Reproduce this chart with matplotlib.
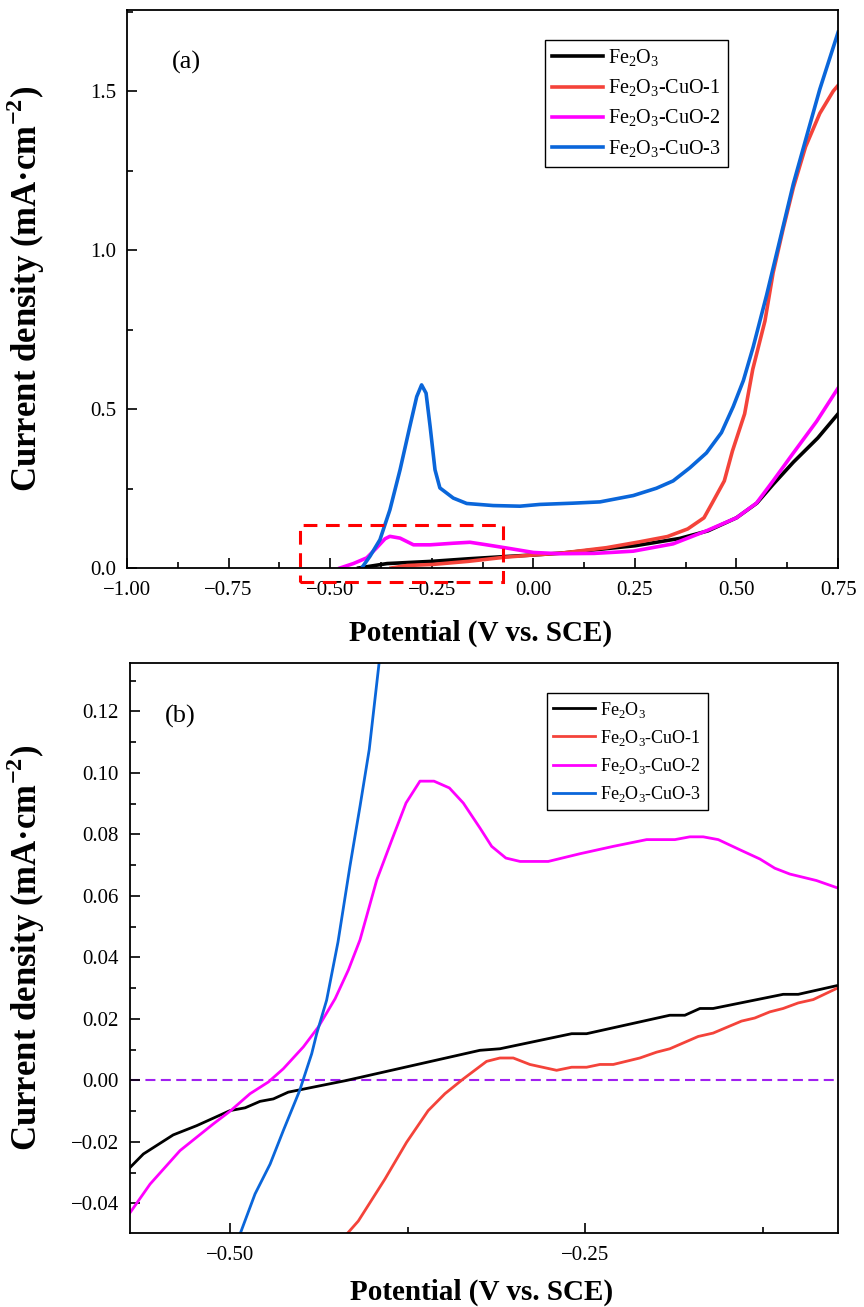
import matplotlib
matplotlib.use('Agg')
import matplotlib.pyplot as plt
from matplotlib.ticker import MultipleLocator, FuncFormatter
from matplotlib.patches import Rectangle

plt.rcParams['font.family'] = ['Liberation Serif', 'DejaVu Serif']
plt.rcParams['mathtext.fontset'] = 'custom'
plt.rcParams['mathtext.rm'] = 'Liberation Serif'
plt.rcParams['mathtext.bf'] = 'Liberation Serif:bold'

LABELS = [r'Fe$_2$O$_3$', r'Fe$_2$O$_3$-CuO-1', r'Fe$_2$O$_3$-CuO-2', r'Fe$_2$O$_3$-CuO-3']
COLORS = ['black', '#F4433A', '#FF00FF', '#0A66DA']

# ---- panel (a): full LSV scan ----
a_x_fe = [-0.43, -0.36, -0.25, -0.16, -0.07, 0.0, 0.07, 0.25, 0.36, 0.43, 0.50,
          0.55, 0.59, 0.64, 0.70, 0.75]
a_fe = [0.0, 0.014, 0.021, 0.029, 0.036, 0.041, 0.047, 0.070, 0.093, 0.117, 0.158,
        0.204, 0.263, 0.333, 0.409, 0.485]

a_x_cu1 = [-0.35, -0.31, -0.25, -0.16, -0.07, 0.0, 0.07, 0.18, 0.26, 0.33, 0.38,
           0.42, 0.44, 0.47, 0.49, 0.52, 0.54, 0.57, 0.59, 0.615, 0.64, 0.67,
           0.705, 0.738, 0.75]
a_cu1 = [0.0, 0.008, 0.011, 0.021, 0.034, 0.041, 0.047, 0.064, 0.082, 0.099, 0.123,
         0.158, 0.204, 0.274, 0.368, 0.485, 0.625, 0.777, 0.928, 1.068, 1.197, 1.325,
         1.430, 1.500, 1.518]

a_x_cu2 = [-0.476, -0.443, -0.41, -0.386, -0.365, -0.353, -0.328, -0.295, -0.254,
           -0.197, -0.156, -0.115, -0.066, 0.0, 0.065, 0.15, 0.246, 0.344, 0.426,
           0.50, 0.549, 0.59, 0.64, 0.697, 0.75]
a_cu2 = [0.0, 0.014, 0.032, 0.063, 0.092, 0.0996, 0.094, 0.073, 0.073, 0.078, 0.081,
         0.073, 0.063, 0.049, 0.045, 0.046, 0.053, 0.076, 0.117, 0.158, 0.204, 0.274,
         0.362, 0.461, 0.566]

a_x_cu3 = [-0.4225, -0.402, -0.3775, -0.353, -0.328, -0.304, -0.287, -0.275, -0.264,
           -0.254, -0.242, -0.23, -0.197, -0.164, -0.099, -0.033, 0.016, 0.098, 0.164,
           0.246, 0.303, 0.344, 0.385, 0.426, 0.463, 0.492, 0.517, 0.541, 0.574,
           0.607, 0.640, 0.673, 0.705, 0.75]
a_cu3 = [0.0, 0.037, 0.089, 0.183, 0.309, 0.445, 0.539, 0.576, 0.55, 0.445, 0.309,
         0.252, 0.220, 0.203, 0.1965, 0.1945, 0.200, 0.204, 0.208, 0.228, 0.251, 0.274,
         0.315, 0.362, 0.426, 0.508, 0.590, 0.695, 0.858, 1.033, 1.209, 1.36, 1.506,
         1.685]

# ---- panel (b): zoom on the onset region ----
b_x_fe = [-0.5704, -0.561, -0.54, -0.5235, -0.5, -0.4894, -0.4789, -0.4695, -0.459,
          -0.418, -0.3241, -0.31, -0.2595, -0.249, -0.1904, -0.1798, -0.1692, -0.1599,
          -0.1106, -0.1, -0.073]
b_fe = [-0.0283, -0.0239, -0.0177, -0.0147, -0.0098, -0.0089, -0.0068, -0.006, -0.0038,
        0.0, 0.0098, 0.0103, 0.0152, 0.0152, 0.0212, 0.0212, 0.0234, 0.0234, 0.028,
        0.028, 0.0308]

b_x_cu1 = [-0.4179, -0.4097, -0.391, -0.3757, -0.3605, -0.3487, -0.3358, -0.3194,
           -0.31, -0.3006, -0.2889, -0.2701, -0.2595, -0.249, -0.2396, -0.2302,
           -0.2115, -0.1997, -0.1904, -0.1704, -0.1599, -0.1399, -0.1306, -0.12,
           -0.1106, -0.1, -0.0894, -0.073]
b_cu1 = [-0.05, -0.0457, -0.0321, -0.0201, -0.0098, -0.0043, 0.0005, 0.0062, 0.0073,
         0.0073, 0.0052, 0.0033, 0.0043, 0.0043, 0.0052, 0.0052, 0.0073, 0.0092,
         0.0103, 0.0143, 0.0154, 0.0193, 0.0203, 0.0223, 0.0234, 0.0252, 0.0263, 0.0299]

b_x_cu2 = [-0.5704, -0.5563, -0.5352, -0.5117, -0.5, -0.4859, -0.473, -0.4625, -0.4484,
           -0.4378, -0.426, -0.4167, -0.4085, -0.3967, -0.386, -0.3761, -0.3663,
           -0.3564, -0.3456, -0.3358, -0.3241, -0.3158, -0.3058, -0.2958, -0.276,
           -0.2537, -0.2302, -0.2067, -0.1868, -0.1763, -0.1669, -0.1563, -0.1411,
           -0.127, -0.1165, -0.1059, -0.0872, -0.073]
b_cu2 = [-0.043, -0.0337, -0.0228, -0.0141, -0.01, -0.0043, -0.0005, 0.0038, 0.0109,
         0.0174, 0.0266, 0.0359, 0.0457, 0.0652, 0.0783, 0.0902, 0.0973, 0.0973,
         0.0951, 0.0902, 0.0821, 0.0761, 0.0723, 0.0712, 0.0712, 0.0737, 0.0761,
         0.0783, 0.0783, 0.0792, 0.0792, 0.0783, 0.075, 0.072, 0.069, 0.0671, 0.065,
         0.0627]

b_x_cu3 = [-0.493, -0.4824, -0.4718, -0.4625, -0.451, -0.4425, -0.439, -0.432, -0.424,
           -0.4156, -0.4085, -0.402, -0.395]
b_cu3 = [-0.05, -0.0369, -0.0272, -0.0163, -0.0033, 0.0087, 0.0152, 0.0261, 0.045,
         0.0696, 0.0891, 0.1076, 0.136]

# dashed box in (a) marking the region shown in (b)
BOX_X = (-0.574, -0.0755)
BOX_Y = (-0.044, 0.136)


def fmt(decimals):
    return FuncFormatter(lambda v, pos: f'{v:.{decimals}f}'.replace('-', '\u2212'))


def style_axes(ax, xmaj, xmin, ymaj, ymin, ydec):
    ax.xaxis.set_major_locator(MultipleLocator(xmaj))
    ax.xaxis.set_minor_locator(MultipleLocator(xmin))
    ax.yaxis.set_major_locator(MultipleLocator(ymaj))
    ax.yaxis.set_minor_locator(MultipleLocator(ymin))
    ax.xaxis.set_major_formatter(fmt(2))
    ax.yaxis.set_major_formatter(fmt(ydec))
    ax.tick_params(which='both', direction='in', top=False, right=False,
                   labelsize=15, width=1.2)
    ax.tick_params(which='major', length=7)
    ax.tick_params(which='minor', length=4)
    ax.tick_params(axis='x', pad=9)
    ax.tick_params(axis='y', pad=8)
    for sp in ax.spines.values():
        sp.set_linewidth(1.3)
    ax.set_xlabel('Potential (V vs. SCE)', fontsize=21, fontweight='bold')
    ax.set_ylabel(r'Current density (mA·cm$^{\mathbf{-2}}$)', fontsize=25,
                  fontweight='bold')


fig = plt.figure(figsize=(8.64, 13.07), dpi=100)
ax1 = fig.add_axes([0.147, 0.5654, 0.823, 0.4269])
ax2 = fig.add_axes([0.1505, 0.0566, 0.8194, 0.4361])

for xs, ys, lab, col in zip([a_x_fe, a_x_cu1, a_x_cu2, a_x_cu3],
                            [a_fe, a_cu1, a_cu2, a_cu3], LABELS, COLORS):
    ax1.plot(xs, ys, color=col, lw=2.6, label=lab)
ax1.set_xlim(-1.0, 0.75)
ax1.set_ylim(0, 1.755)
style_axes(ax1, 0.25, 0.125, 0.5, 0.25, 1)
ax1.xaxis.set_label_coords(0.497, -0.093)
ax1.yaxis.set_label_coords(-0.112, 0.5)
ax1.text(0.083, 0.907, '(a)', transform=ax1.transAxes, fontsize=19,
         ha='center', va='center')
ax1.add_patch(Rectangle((BOX_X[0], BOX_Y[0]), BOX_X[1] - BOX_X[0], BOX_Y[1] - BOX_Y[0],
                        fill=False, edgecolor='red', lw=2.2, ls=(0, (4.5, 2.8)),
                        clip_on=False, zorder=5))
leg1 = ax1.legend(loc='upper left', bbox_to_anchor=(0.588, 0.946), borderaxespad=0,
                  fontsize=14.5, handlelength=2.5, handletextpad=0.25,
                  labelspacing=0.45, borderpad=0.35, fancybox=False,
                  edgecolor='black', framealpha=1)
leg1.get_frame().set_linewidth(1.0)

for xs, ys, lab, col in zip([b_x_fe, b_x_cu1, b_x_cu2, b_x_cu3],
                            [b_fe, b_cu1, b_cu2, b_cu3], LABELS, COLORS):
    ax2.plot(xs, ys, color=col, lw=2.0, label=lab)
ax2.axhline(0, color='#A020F0', lw=1.5, ls=(0, (4.8, 2.6)), zorder=1)
ax2.set_xlim(-0.5704, -0.072)
ax2.set_ylim(-0.0496, 0.1357)
style_axes(ax2, 0.25, 0.125, 0.02, 0.01, 2)
ax2.xaxis.set_label_coords(0.497, -0.08)
ax2.yaxis.set_label_coords(-0.117, 0.5)
ax2.text(0.071, 0.907, '(b)', transform=ax2.transAxes, fontsize=19,
         ha='center', va='center')
leg2 = ax2.legend(loc='upper left', bbox_to_anchor=(0.589, 0.947), borderaxespad=0,
                  fontsize=13, handlelength=2.3, handletextpad=0.3,
                  labelspacing=0.45, borderpad=0.35, fancybox=False,
                  edgecolor='black', framealpha=1)
leg2.get_frame().set_linewidth(1.0)

fig.savefig('out.png', dpi=100)
